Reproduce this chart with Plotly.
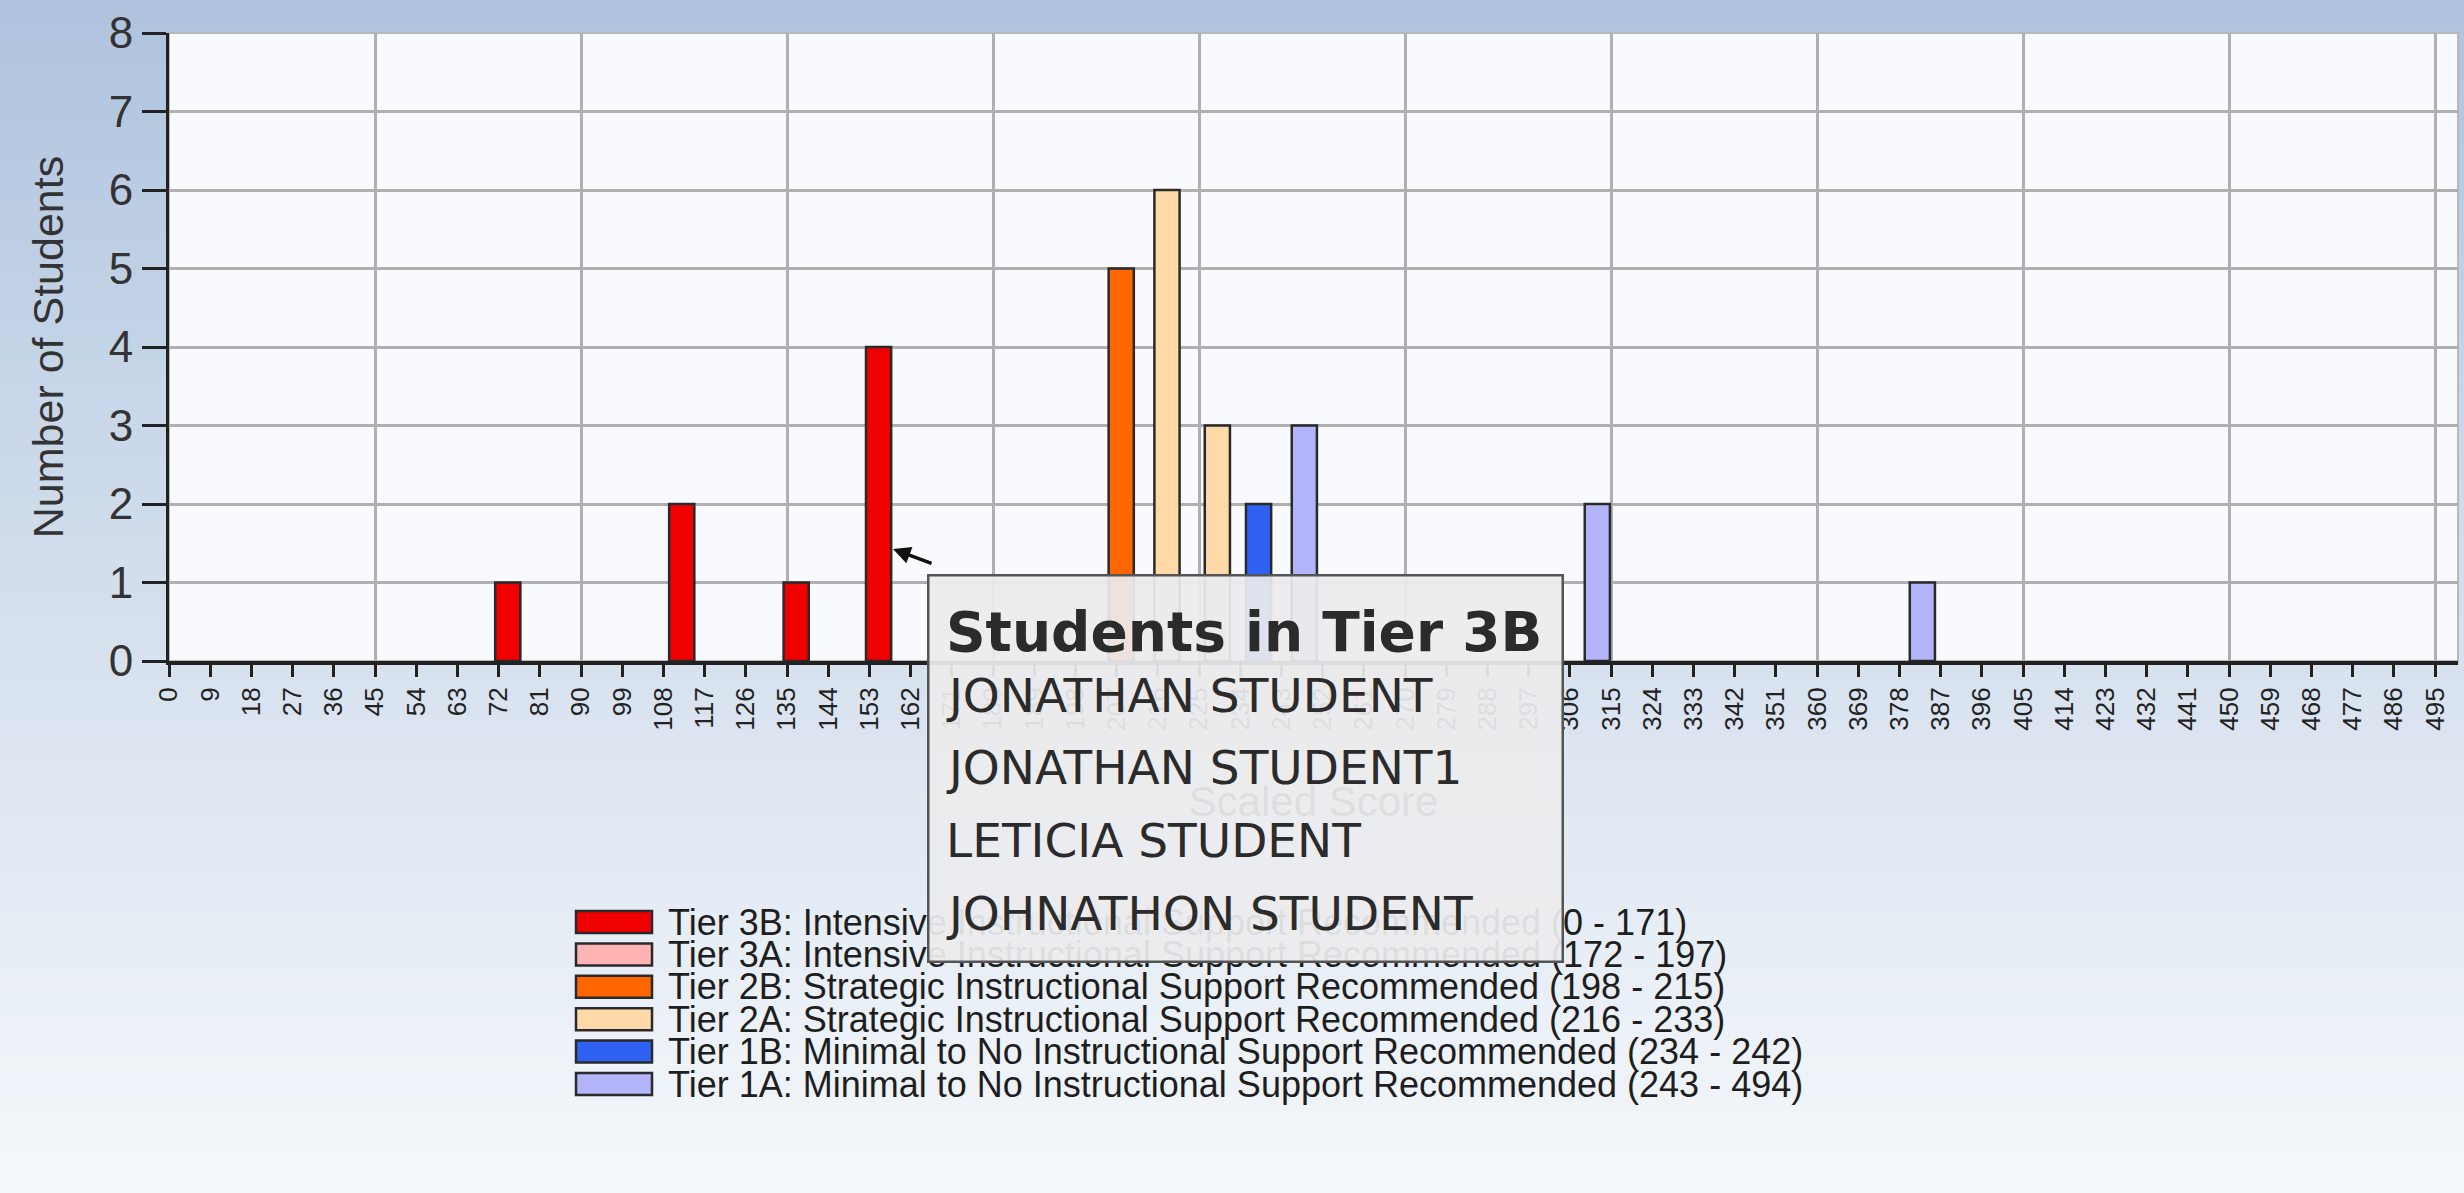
import plotly.graph_objects as go

# ---------------- data ----------------
tier_labels = [
    "Tier 3B: Intensive Instructional Support Recommended (0 - 171)",
    "Tier 3A: Intensive Instructional Support Recommended (172 - 197)",
    "Tier 2B: Strategic Instructional Support Recommended (198 - 215)",
    "Tier 2A: Strategic Instructional Support Recommended (216 - 233)",
    "Tier 1B: Minimal to No Instructional Support Recommended (234 - 242)",
    "Tier 1A: Minimal to No Instructional Support Recommended (243 - 494)",
]
tier_colors = ["#f00000", "#ffb3b3", "#ff6600", "#ffd9a8", "#2f62f2", "#b3b3fa"]

tier3b_scores = [74, 112, 137, 155]
tier3b_counts = [1, 2, 1, 4]
tier3a_scores = []
tier3a_counts = []
tier2b_scores = [208]
tier2b_counts = [5]
tier2a_scores = [218, 229]
tier2a_counts = [6, 3]
tier1b_scores = [238]
tier1b_counts = [2]
tier1a_scores = [248, 312, 383]
tier1a_counts = [3, 2, 1]

tooltip_title = "Students in Tier 3B"
tooltip_students = ["JONATHAN STUDENT", "JONATHAN STUDENT1", "LETICIA STUDENT", "JOHNATHON STUDENT"]

x_title = "Scaled Score"
y_title = "Number of Students"

# ---------------- geometry (layout/styling) ----------------
W, H = 2464, 1193
ML, MR, MT, MB = 169, 6, 33, 532
PW, PH = W - ML - MR, H - MT - MB


def px(xpix):
    return (xpix - ML) / PW


def py(ypix):
    return (H - MB - ypix) / PH


FONT = "Liberation Sans, Arial, sans-serif"

series = [
    (tier3b_scores, tier3b_counts),
    (tier3a_scores, tier3a_counts),
    (tier2b_scores, tier2b_counts),
    (tier2a_scores, tier2a_counts),
    (tier1b_scores, tier1b_counts),
    (tier1a_scores, tier1a_counts),
]

fig = go.Figure()
for idx, ((xs, ys), name, col) in enumerate(zip(series, tier_labels, tier_colors)):
    fig.add_trace(go.Bar(
        x=xs, y=ys, name=name, width=5.5,
        xaxis="x2" if idx == len(series) - 1 else "x",
        marker=dict(color=col, line=dict(color="#2a2a2a", width=2.5)),
        showlegend=False, hoverinfo="skip",
    ))

shapes = []
# background vertical gradient (paper)
stops = [(0.0, (174, 195, 222)), (0.35, (201, 215, 233)), (0.7, (226, 233, 243)), (1.0, (244, 248, 251))]


def grad(t):
    for (t0, c0), (t1, c1) in zip(stops[:-1], stops[1:]):
        if t0 <= t <= t1:
            f = (t - t0) / (t1 - t0)
            return tuple(int(round(a + (b - a) * f)) for a, b in zip(c0, c1))
    return stops[-1][1]


N = 60
for i in range(N):
    top = i * H / N
    bot = (i + 1) * H / N + 1
    c = grad((i + 0.5) / N)
    shapes.append(dict(type="rect", xref="paper", yref="paper",
                       x0=px(-5), x1=px(W + 5), y0=py(bot), y1=py(top),
                       fillcolor="rgb(%d,%d,%d)" % c, line=dict(width=0), layer="below"))
# plot area background + border
shapes.append(dict(type="rect", xref="paper", yref="paper", x0=0, x1=1, y0=0, y1=1,
                   fillcolor="#f8fafd", line=dict(color="#b8b8b8", width=2), layer="below"))

annotations = []
# custom legend
row0 = 922
row_step = 32.4
for i, (lab, col) in enumerate(zip(tier_labels, tier_colors)):
    yc = row0 + i * row_step
    shapes.append(dict(type="rect", xref="paper", yref="paper",
                       x0=px(576), x1=px(652), y0=py(yc + 11), y1=py(yc - 11),
                       fillcolor=col, line=dict(color="#2a2a2a", width=2.5), layer="above"))
    annotations.append(dict(xref="paper", yref="paper", x=px(666), y=py(yc),
                            xanchor="left", yanchor="middle", showarrow=False,
                            text=lab, font=dict(family=FONT, size=36, color="#1e1e1e")))

# mouse cursor
annotations.append(dict(xref="paper", yref="paper", x=px(893), y=py(549), text="",
                        showarrow=True, ax=40, ay=15, arrowhead=2, arrowsize=1,
                        arrowwidth=3.5, arrowcolor="#111111"))

# tooltip box
annotations.append(dict(xref="paper", yref="paper", x=px(927), y=py(574),
                        xanchor="left", yanchor="top", showarrow=False, text=" ",
                        width=632, height=384, borderwidth=2.5, borderpad=0,
                        bordercolor="#555555", bgcolor="rgba(236,236,238,0.93)"))
annotations.append(dict(xref="paper", yref="paper", x=px(944), y=py(632),
                        xanchor="left", yanchor="middle", showarrow=False,
                        text="<b>%s</b>" % tooltip_title,
                        font=dict(family="DejaVu Sans", size=55, color="#2b2b2b")))
for i, nm in enumerate(tooltip_students):
    annotations.append(dict(xref="paper", yref="paper", x=px(944), y=py(695 + i * 72.7),
                            xanchor="left", yanchor="middle", showarrow=False,
                            text=nm, font=dict(family="DejaVu Sans", size=47, color="#2b2b2b")))

fig.update_layout(
    width=W, height=H,
    margin=dict(l=ML, r=MR, t=MT, b=MB, pad=0),
    paper_bgcolor="rgb(210,221,236)",
    plot_bgcolor="rgba(0,0,0,0)",
    barmode="overlay",
    showlegend=False,
    hovermode=False,
    shapes=shapes,
    annotations=annotations,
    xaxis=dict(
        range=[0, 500], tick0=0, dtick=9, tickmode="linear",
        showgrid=False, zeroline=False,
        showline=True, linecolor="#222222", linewidth=4,
        ticks="outside", ticklen=12, tickwidth=3, tickcolor="#222222",
        tickangle=-90, tickfont=dict(family=FONT, size=26, color="#222222"),
        title=dict(text=x_title, standoff=58, font=dict(family=FONT, size=42, color="#333333")),
    ),
    xaxis2=dict(
        overlaying="x", matches="x", anchor="y", range=[0, 500], tick0=0, dtick=45, tickmode="linear",
        showgrid=True, gridcolor="#b0b0b0", gridwidth=2.5,
        showticklabels=False, ticks="", showline=False, zeroline=False,
    ),
    yaxis=dict(
        range=[0, 8], tick0=0, dtick=1,
        showgrid=True, gridcolor="#b0b0b0", gridwidth=3, zeroline=False,
        showline=True, linecolor="#222222", linewidth=3,
        ticks="outside", ticklen=24, tickwidth=3, tickcolor="#222222",
        tickfont=dict(family=FONT, size=44, color="#333333"),
        title=dict(text=y_title, standoff=32, font=dict(family=FONT, size=43, color="#333333")),
    ),
)

fig.write_html("out.html", config={"displayModeBar": False},
               post_script="document.body.style.margin='0px';document.body.style.overflow='hidden';")
